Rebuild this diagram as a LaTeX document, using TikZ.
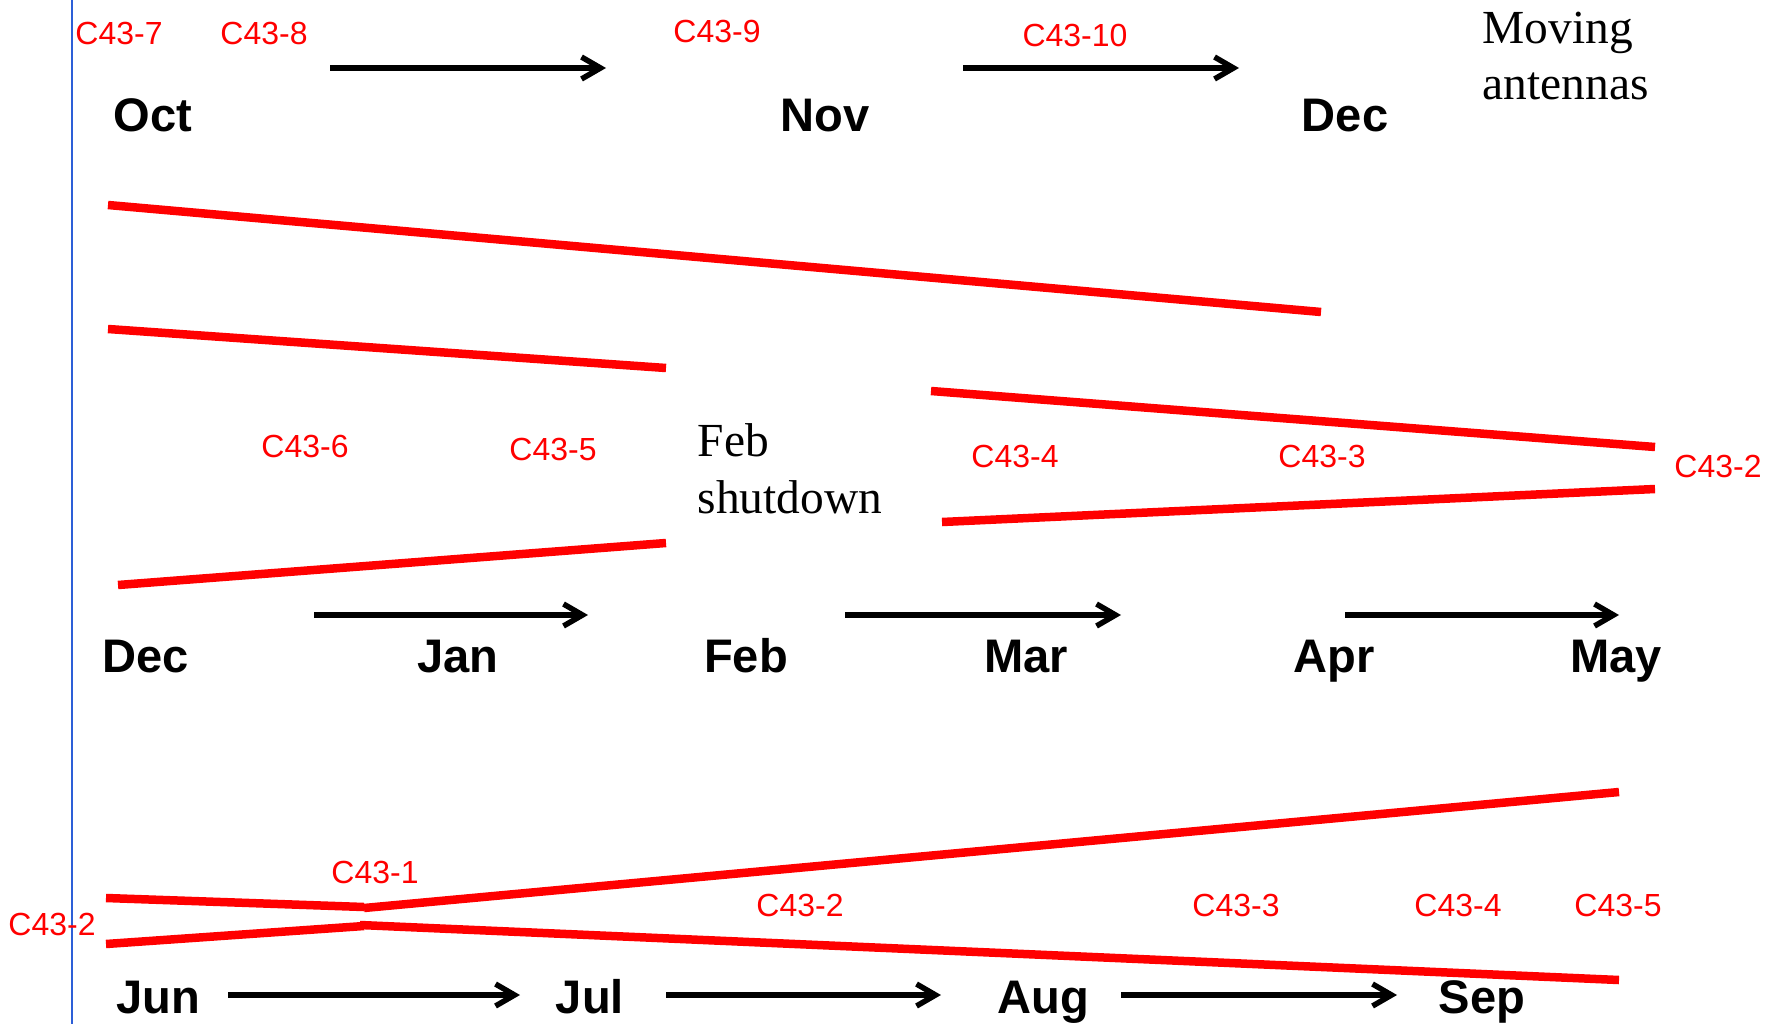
\documentclass[tikz,border=0pt]{standalone}
\usepackage{fontspec}
\setmainfont{Liberation Serif}
\setsansfont{Liberation Sans}
\usetikzlibrary{arrows.meta,positioning}

\definecolor{cfgred}{RGB}{255,0,0}
\definecolor{axisblue}{RGB}{45,95,215}

\begin{document}
\begin{tikzpicture}[x=0.1mm, y=-0.1mm,
  month/.style={font=\sffamily\bfseries\fontsize{13.4}{16}\selectfont, inner sep=0, anchor=base},
  cfg/.style={font=\sffamily\fontsize{9.1}{11}\selectfont, text=cfgred, inner sep=0, anchor=base},
  note/.style={font=\rmfamily\fontsize{13.5}{16.2}\selectfont, align=left, inner sep=0, anchor=base west},
  bar/.style={draw=cfgred, line width=0.85mm},
  arr/.style={draw, line width=0.55mm, -{Straight Barb[length=1.9mm,width=2.2mm]}}]
\useasboundingbox (0,0) rectangle (1777,1024);

% left margin rule
\draw[axisblue, line width=0.15mm] (72,0) -- (72,1024);

% Oct -- Dec
\node (oct) [month] at (153,132) {Oct};
\node (nov) [month] at (825,132) {Nov};
\node (dec1) [month] at (1345,132) {Dec};
\node (move) [note] at (1482,100) {Moving\\antennas};
\node (c7) [cfg] at (119,45) {C43-7};
\node (c8) [cfg] at (264,45) {C43-8};
\node (c9) [cfg] at (717,43) {C43-9};
\node (c10) [cfg] at (1075,47) {C43-10};
\coordinate (a1s) at (330,68);  \coordinate (a1e) at (606,68);
\coordinate (a2s) at (963,68);  \coordinate (a2e) at (1239,68);
\draw[arr] (a1s) -- (a1e);
\draw[arr] (a2s) -- (a2e);

% Dec -- May
\draw[bar] (108,205) -- (1321,312);
\draw[bar] (108,329) -- (666,368);
\draw[bar] (118,585) -- (666,543);
\draw[bar] (931,391) -- (1655,447);
\draw[bar] (942,522) -- (1655,489);
\node (c6a) [cfg] at (305,457) {C43-6};
\node (c5a) [cfg] at (553,460) {C43-5};
\node (c4a) [cfg] at (1015,467) {C43-4};
\node (c3a) [cfg] at (1322,467) {C43-3};
\node (c2a) [cfg] at (1718,477) {C43-2};
\node (shut) [note] at (697,513) {Feb\\shutdown};
\node (dec2) [month] at (146,672) {Dec};
\node (jan) [month] at (458,672) {Jan};
\node (feb) [month] at (746,672) {Feb};
\node (mar) [month] at (1026,672) {Mar};
\node (apr) [month] at (1334,672) {Apr};
\node (may) [month] at (1616,672) {May};
\coordinate (a3s) at (314,615);  \coordinate (a3e) at (588,615);
\coordinate (a4s) at (845,615);  \coordinate (a4e) at (1121,615);
\coordinate (a5s) at (1345,615); \coordinate (a5e) at (1619,615);
\draw[arr] (a3s) -- (a3e);
\draw[arr] (a4s) -- (a4e);
\draw[arr] (a5s) -- (a5e);

% Jun -- Sep
\draw[bar] (106,898) -- (364,907);
\draw[bar] (364,908) -- (1619,792);
\draw[bar] (106,944) -- (364,926);
\draw[bar] (360,925) -- (1619,980);
\node (c2b) [cfg] at (52,935) {C43-2};
\node (c1) [cfg] at (375,883) {C43-1};
\node (c2c) [cfg] at (800,916) {C43-2};
\node (c3b) [cfg] at (1236,916) {C43-3};
\node (c4b) [cfg] at (1458,916) {C43-4};
\node (c5b) [cfg] at (1618,916) {C43-5};
\node (jun) [month] at (158,1013) {Jun};
\node (jul) [month] at (590,1013) {Jul};
\node (aug) [month] at (1043,1013) {Aug};
\node (sep) [month] at (1482,1013) {Sep};
\coordinate (a6s) at (228,995);  \coordinate (a6e) at (520,995);
\coordinate (a7s) at (666,995);  \coordinate (a7e) at (941,995);
\coordinate (a8s) at (1121,995); \coordinate (a8e) at (1397,995);
\draw[arr] (a6s) -- (a6e);
\draw[arr] (a7s) -- (a7e);
\draw[arr] (a8s) -- (a8e);
\end{tikzpicture}
\end{document}
